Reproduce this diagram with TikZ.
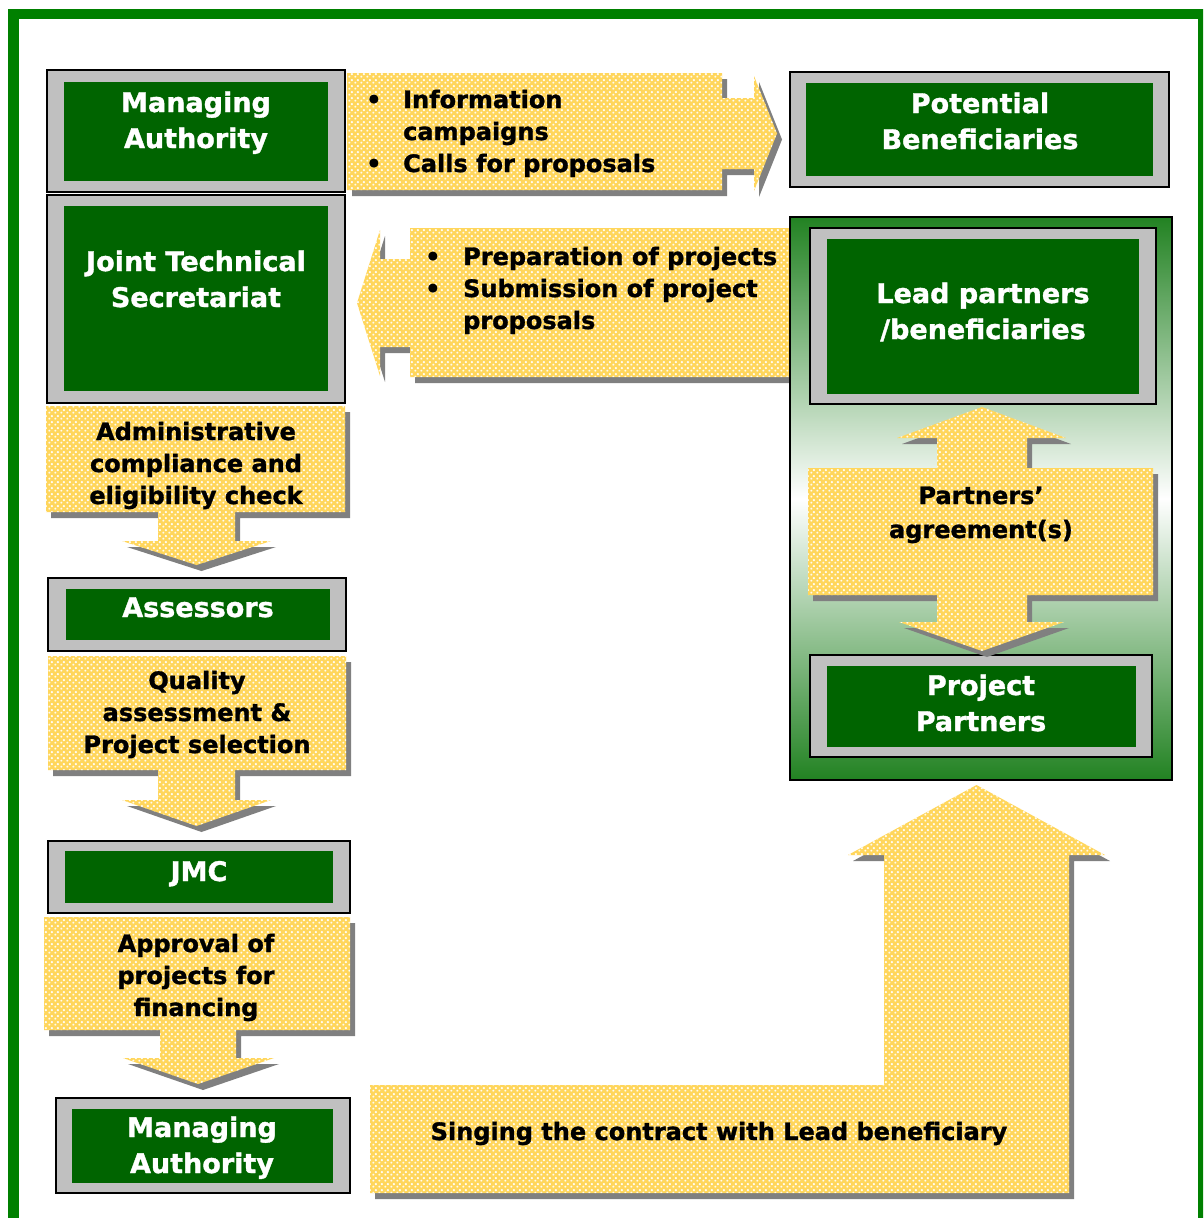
\documentclass[tikz,border=0pt]{standalone}
\usepackage{fontspec}
\setmainfont{DejaVu Sans}[BoldFeatures={FakeBold=1.3}]
\usetikzlibrary{patterns}
\definecolor{frameg}{RGB}{0,128,0}
\definecolor{dkg}{RGB}{0,100,0}
\definecolor{boxgray}{RGB}{192,192,192}
\definecolor{shadowc}{RGB}{128,128,128}
\definecolor{ybase}{RGB}{255,214,92}
\definecolor{contg}{RGB}{34,130,34}
\pgfdeclarepatternformonly{ycross}{\pgfqpoint{0pt}{0pt}}{\pgfqpoint{6pt}{6pt}}{\pgfqpoint{6pt}{6pt}}{%
  \pgfpathrectangle{\pgfqpoint{1pt}{0.3pt}}{\pgfqpoint{1pt}{2.4pt}}%
  \pgfpathrectangle{\pgfqpoint{0.3pt}{1pt}}{\pgfqpoint{2.4pt}{1pt}}%
  \pgfpathrectangle{\pgfqpoint{4pt}{3.3pt}}{\pgfqpoint{1pt}{2.4pt}}%
  \pgfpathrectangle{\pgfqpoint{3.3pt}{4pt}}{\pgfqpoint{2.4pt}{1pt}}%
  \pgfusepath{fill}}
\tikzset{
  yfill/.style={fill=ybase, postaction={pattern=ycross, pattern color=white}},
  gframe/.style={fill=boxgray, draw=black, line width=2pt},
  ginner/.style={fill=dkg},
  gtext/.style={text=white, font=\fontsize{27}{36}\selectfont\bfseries, anchor=base, inner sep=0pt},
  ytext/.style={text=black, font=\fontsize{24}{32}\selectfont\bfseries, anchor=base, inner sep=0pt},
}
\newcommand{\blockarrow}[1]{\fill[shadowc, shift={(5,6)}] #1; \fill[yfill] #1;}
\newcommand{\gbox}[8]{\filldraw[gframe] (#1,#2) rectangle (#3,#4); \fill[ginner] (#5,#6) rectangle (#7,#8);}
\newcommand{\mlc}[1]{\begin{tabular}[t]{@{}c@{}}#1\end{tabular}}
\begin{document}
\begin{tikzpicture}[x=1pt,y=-1pt]
\useasboundingbox (0,0) rectangle (1203,1218);
\fill[white] (0,0) rectangle (1203,1218);
% outer frame
\begin{scope}
\clip (0,0) rectangle (1203,1218);
\draw[frameg, line width=10.5pt] (13.5,14) rectangle (1203.5,1240);
\end{scope}

% top arrows
\blockarrow{(347,73) -- (722,73) -- (722,98) -- (754,98) -- (754,76) -- (777,133.5) -- (754,191) -- (754,169) -- (722,169) -- (722,190) -- (347,190) -- cycle}
\blockarrow{(795,228) -- (410,228) -- (410,259) -- (380,259) -- (380,230) -- (357,303) -- (380,376) -- (380,347) -- (410,347) -- (410,377) -- (795,377) -- cycle}

% container
\shade[top color=contg, bottom color=contg, middle color=white] (790,217) rectangle (1172,780);
\draw[black, line width=2pt] (790,217) rectangle (1172,780);

% green boxes
\gbox{47}{70}{345}{192}{64}{82}{328}{181}
\gbox{47}{195}{345}{403}{64}{206}{328}{391}
\gbox{790}{72}{1169}{187}{806}{83}{1153}{176}
\gbox{810}{228}{1156}{404}{827}{239}{1139}{394}
\gbox{810}{655}{1152}{757}{827}{666}{1136}{747}
\gbox{48}{578}{346}{651}{66}{589}{330}{640}
\gbox{48}{841}{350}{913}{65}{851}{333}{903}
\gbox{56}{1098}{350}{1193}{72}{1109}{333}{1183}

% down arrows
\blockarrow{(46,406) -- (345,406) -- (345,512) -- (235,512) -- (235,541) -- (271,541) -- (196.5,565) -- (122,541) -- (158,541) -- (158,512) -- (46,512) -- cycle}
\blockarrow{(48,656) -- (346,656) -- (346,770) -- (235,770) -- (235,800) -- (271,800) -- (196.5,826) -- (122,800) -- (158,800) -- (158,770) -- (48,770) -- cycle}
\blockarrow{(44,917) -- (350,917) -- (350,1030) -- (236,1030) -- (236,1058) -- (274,1058) -- (198,1084) -- (123,1058) -- (160,1058) -- (160,1030) -- (44,1030) -- cycle}
% double arrow
\blockarrow{(808,468) -- (937,468) -- (937,438) -- (897,438) -- (982,407) -- (1066,438) -- (1027,438) -- (1027,468) -- (1153,468) -- (1153,595) -- (1027,595) -- (1027,622) -- (1064,622) -- (982,651) -- (899,622) -- (937,622) -- (937,595) -- (808,595) -- cycle}
% L arrow
\blockarrow{(370,1085) -- (884,1085) -- (884,855) -- (848,855) -- (976.5,785) -- (1105,855) -- (1069,855) -- (1069,1193) -- (370,1193) -- cycle}

% texts in green boxes
\node[gtext] (ma1) at (196,112) {\mlc{Managing\\Authority}};
\node[gtext] (jts) at (196,271) {\mlc{Joint Technical\\Secretariat}};
\node[gtext] (pb) at (980,113) {\mlc{Potential\\Beneficiaries}};
\node[gtext] (lp) at (983,303) {\mlc{Lead partners\\/beneficiaries}};
\node[gtext] (pp) at (981,695) {\mlc{Project\\Partners}};
\node[gtext] (as) at (198,617) {Assessors};
\node[gtext] (jmc) at (199,881) {JMC};
\node[gtext] (ma2) at (202,1137) {\mlc{Managing\\Authority}};

% texts in yellow arrows
\node[ytext, anchor=base west] (info) at (366,108) {\begin{tabular}[t]{@{}l@{}l@{}}\makebox[37pt][l]{•}&Information\\&campaigns\\•&Calls for proposals\end{tabular}};
\node[ytext, anchor=base west] (prep) at (425,265) {\begin{tabular}[t]{@{}l@{}l@{}}\makebox[38pt][l]{•}&Preparation of projects\\•&Submission of project\\&proposals\end{tabular}};
\node[ytext] (adm) at (196,440) {\mlc{Administrative\\compliance and\\eligibility check}};
\node[ytext] (qual) at (197,689) {\mlc{Quality\\assessment \&\\Project selection}};
\node[ytext] (appr) at (196,952) {\mlc{Approval of\\projects for\\financing}};
\node[ytext, font=\fontsize{24}{34}\selectfont\bfseries] (agr) at (981,504) {\mlc{Partners’\\agreement(s)}};
\node[ytext] (sign) at (719,1140) {Singing the contract with Lead beneficiary};
\end{tikzpicture}
\end{document}
